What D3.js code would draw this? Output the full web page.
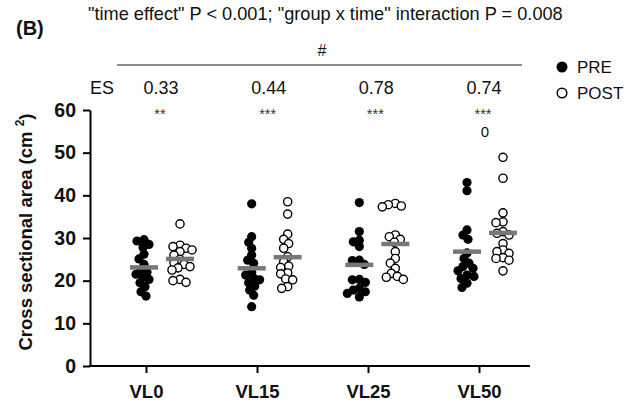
<!DOCTYPE html>
<html>
<head>
<meta charset="utf-8">
<script src="https://cdn.jsdelivr.net/npm/d3@7/dist/d3.min.js"></script>
<style>
  body { margin: 0; background: #fff; }
  svg { display: block; font-family: "Liberation Sans", Arial, sans-serif; }
</style>
</head>
<body>
<div class="canvas"></div>
<script>
// data
const categories = ['VL0', 'VL15', 'VL25', 'VL50'];

const preValues = [
  [29.6, 29.3, 28.5, 27.8, 26.2, 25.1, 23.8, 22.5, 22.0, 21.5, 20.8, 20.3, 19.5, 18.6, 17.4, 16.4],
  [38.0, 30.3, 29.0, 27.6, 26.0, 24.8, 24.1, 22.0, 21.3, 20.6, 20.2, 19.5, 18.7, 17.8, 16.6, 13.9],
  [38.3, 31.5, 29.5, 29.1, 28.0, 24.8, 24.7, 23.8, 20.3, 20.2, 19.6, 18.2, 17.8, 17.4, 17.0, 16.2],
  [43.0, 41.1, 31.9, 30.7, 29.7, 26.5, 25.2, 24.1, 23.3, 22.9, 22.3, 21.3, 21.0, 20.5, 19.4, 18.4]
];
const postValues = [
  [33.3, 28.3, 28.0, 27.6, 27.2, 26.8, 26.0, 25.0, 24.2, 23.8, 23.3, 23.0, 22.5, 20.3, 20.0, 19.6],
  [38.5, 35.6, 30.9, 29.7, 28.7, 27.6, 25.6, 24.4, 23.4, 23.1, 21.8, 21.6, 20.4, 20.2, 18.6, 18.2],
  [38.1, 37.8, 37.5, 37.3, 30.7, 30.3, 29.7, 29.0, 26.8, 25.2, 24.1, 22.9, 21.7, 21.0, 20.8, 20.3],
  [48.9, 44.0, 35.9, 33.8, 33.6, 31.5, 31.1, 30.7, 28.7, 27.2, 26.8, 26.4, 25.4, 25.2, 24.8, 22.3]
];
const preMeans = [23.1, 22.9, 23.7, 26.8];
const postMeans = [25.1, 25.5, 28.6, 31.2];

const esValues = ['0.33', '0.44', '0.78', '0.74'];
const sigStars = ['**', '***', '***', '***'];
const outlierMark = ['', '', '', '0'];
const yTicks = [0, 10, 20, 30, 40, 50, 60];

const panelLabel = '(B)';
const titleText = '"time effect" P < 0.001; "group x time" interaction P = 0.008';
const seriesNames = ['PRE', 'POST'];

const width = 634, height = 403;

const svg = d3.select('.canvas')
  .append('svg')
    .attr('width', width)
    .attr('height', height);

// scales
const y = d3.scaleLinear().domain([0, 60]).range([366, 110]);
const xTick = d3.scalePoint().domain(categories).range([146, 479]);
const xGroup = d3.scalePoint().domain(categories).range([162, 485]);
const half = 18;
const r = 4.6;

// y axis
const yAxis = svg.append('g')
  .attr('transform', 'translate(90,0)')
  .call(d3.axisLeft(y).tickValues(yTicks).tickSize(7).tickSizeOuter(0).tickPadding(7));
yAxis.select('.domain').attr('stroke', '#000').attr('stroke-width', 2);
yAxis.selectAll('.tick line').attr('stroke', '#000').attr('stroke-width', 2);
yAxis.selectAll('.tick text')
  .attr('font-size', 19.5).attr('font-weight', 'bold').attr('fill', '#111')
  .attr('font-family', '"Liberation Sans", Arial, sans-serif');

// x axis
const xAxis = svg.append('g')
  .attr('transform', `translate(0,${y(0)})`)
  .call(d3.axisBottom(xTick).tickSize(7).tickSizeOuter(0).tickPadding(12));
xAxis.select('.domain').remove();
xAxis.append('line')
  .attr('x1', 89).attr('x2', 530)
  .attr('stroke', '#000').attr('stroke-width', 2);
xAxis.selectAll('.tick line').attr('stroke', '#000').attr('stroke-width', 2);
xAxis.selectAll('.tick text')
  .attr('font-size', 18.5).attr('font-weight', 'bold').attr('fill', '#111')
  .attr('font-family', '"Liberation Sans", Arial, sans-serif');

// y label
svg.append('text')
  .attr('transform', `translate(32,${(y(0) + y(60)) / 2 - 6}) rotate(-90)`)
  .attr('text-anchor', 'middle')
  .attr('font-size', 18.5).attr('font-weight', 'bold').attr('fill', '#111')
  .call(t => {
    t.append('tspan').text('Cross sectional area (cm ');
    t.append('tspan').attr('font-size', 12).attr('dy', -8).text('2');
    t.append('tspan').attr('dy', 8).text(')');
  });

// simple beeswarm: place each dot at the smallest offset that avoids overlap
function swarm(values) {
  const minDist = 6.2;
  const placed = [];
  const sorted = values.map((v, i) => ({ v, i })).sort((a, b) => b.v - a.v);
  sorted.forEach(d => {
    const cy = y(d.v);
    let dx = 0;
    for (let k = 0; k < 60; k++) {
      const cand = (k % 2 === 0 ? 1 : -1) * Math.ceil(k / 2) * 1;
      const ok = placed.every(p => Math.hypot(p.dx - cand, p.cy - cy) >= minDist);
      if (ok) { dx = cand; break; }
    }
    placed.push({ dx, cy, v: d.v });
  });
  return placed;
}

categories.forEach((cat, i) => {
  const g = svg.append('g');
  const cxPre = xGroup(cat) - half;
  const cxPost = xGroup(cat) + half;

  g.selectAll('circle.pre')
    .data(swarm(preValues[i]))
    .enter().append('circle')
      .attr('class', 'pre')
      .attr('cx', d => cxPre + d.dx)
      .attr('cy', d => d.cy)
      .attr('r', r)
      .attr('fill', '#000');

  g.selectAll('circle.post')
    .data(swarm(postValues[i]))
    .enter().append('circle')
      .attr('class', 'post')
      .attr('cx', d => cxPost + d.dx)
      .attr('cy', d => d.cy)
      .attr('r', r - 0.5)
      .attr('fill', '#fff')
      .attr('stroke', '#000')
      .attr('stroke-width', 1.4);

  // mean bars
  [[cxPre, preMeans[i]], [cxPost, postMeans[i]]].forEach(([cx, m]) => {
    g.append('line')
      .attr('x1', cx - 14).attr('x2', cx + 14)
      .attr('y1', y(m)).attr('y2', y(m))
      .attr('stroke', '#777').attr('stroke-width', 4.5);
  });
});

// header annotations
svg.append('text')
  .attr('x', 16).attr('y', 35)
  .attr('font-size', 20).attr('font-weight', 'bold').attr('fill', '#111')
  .text(panelLabel);

svg.append('text')
  .attr('x', 88).attr('y', 20)
  .attr('font-size', 18.2).attr('fill', '#111')
  .text(titleText);

svg.append('text')
  .attr('x', 322).attr('y', 56)
  .attr('text-anchor', 'middle')
  .attr('font-size', 16).attr('fill', '#111')
  .text('#');

svg.append('line')
  .attr('x1', 117).attr('x2', 522)
  .attr('y1', 65).attr('y2', 65)
  .attr('stroke', '#666').attr('stroke-width', 1.3);

svg.append('text')
  .attr('x', 90).attr('y', 94)
  .attr('font-size', 18).attr('fill', '#111')
  .text('ES');

svg.selectAll('text.es')
  .data(categories)
  .enter().append('text')
    .attr('class', 'es')
    .attr('x', d => xGroup(d) - 1)
    .attr('y', 94)
    .attr('text-anchor', 'middle')
    .attr('font-size', 18).attr('fill', '#111')
    .text((d, i) => esValues[i]);

svg.selectAll('text.stars')
  .data(categories)
  .enter().append('text')
    .attr('class', 'stars')
    .attr('x', d => xGroup(d) - 2)
    .attr('y', 119)
    .attr('text-anchor', 'middle')
    .attr('font-size', 14.5).attr('fill', '#333')
    .text((d, i) => sigStars[i]);

svg.selectAll('text.outlier')
  .data(categories)
  .enter().append('text')
    .attr('class', 'outlier')
    .attr('x', d => xGroup(d))
    .attr('y', 137)
    .attr('text-anchor', 'middle')
    .attr('font-size', 15).attr('fill', '#111')
    .text((d, i) => outlierMark[i]);

// legend
const legend = svg.append('g').attr('transform', 'translate(562,67)');
seriesNames.forEach((name, i) => {
  const row = legend.append('g').attr('transform', `translate(0,${i * 26})`);
  row.append('circle')
    .attr('r', i === 0 ? 5.5 : 4.8)
    .attr('fill', i === 0 ? '#000' : '#fff')
    .attr('stroke', '#000')
    .attr('stroke-width', i === 0 ? 0 : 1.5);
  row.append('text')
    .attr('x', 15).attr('y', 6)
    .attr('font-size', 17).attr('fill', '#111')
    .text(name);
});
</script>
</body>
</html>
